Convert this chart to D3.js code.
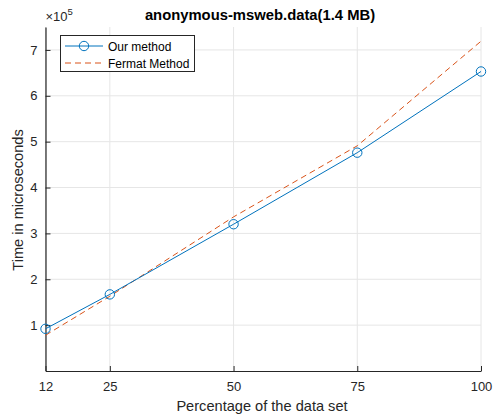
<!DOCTYPE html>
<html>
<head>
<meta charset="utf-8">
<script src="https://d3js.org/d3.v7.min.js"></script>
<style>
  body { margin: 0; background: #fff; }
  svg { display: block; font-family: "Liberation Sans", Arial, sans-serif; }
</style>
</head>
<body>
<svg id="chart" width="498" height="418"></svg>
<script>
// Percentage of the data set used in each run
const percentages = [12, 25, 50, 75, 100];
// Running time in microseconds
const ourMethod = [0.92e5, 1.67e5, 3.20e5, 4.76e5, 6.53e5];
const fermatMethod = [0.78e5, 1.63e5, 3.36e5, 4.91e5, 7.19e5];
const xTicks = [12, 25, 50, 75, 100];
const yTicks = [1e5, 2e5, 3e5, 4e5, 5e5, 6e5, 7e5];
const seriesNames = ["Our method", "Fermat Method"];

const blue = "#0072BD", orange = "#D95319", axisCol = "#262626", gridCol = "#e6e6e6";

const svg = d3.select("#chart");
const plotLeft = 45.5, plotRight = 481, plotTop = 27, plotBottom = 371;

const x = d3.scaleLinear().domain([12, 100]).range([plotLeft, plotRight]);
const y = d3.scaleLinear().domain([0, 7.5e5]).range([plotBottom, plotTop]);

// grid
const grid = svg.append("g");
grid.selectAll(".gx").data(xTicks).join("line")
  .attr("x1", d => x(d)).attr("x2", d => x(d))
  .attr("y1", plotTop).attr("y2", plotBottom)
  .attr("stroke", gridCol).attr("stroke-width", 1);
grid.selectAll(".gy").data(yTicks).join("line")
  .attr("x1", plotLeft).attr("x2", plotRight)
  .attr("y1", d => y(d)).attr("y2", d => y(d))
  .attr("stroke", gridCol).attr("stroke-width", 1);

// axes
const xAxis = svg.append("g").attr("transform", `translate(0,${plotBottom})`)
  .call(d3.axisBottom(x).tickValues(xTicks).tickSizeInner(-5).tickSizeOuter(0).tickPadding(11));
const yAxis = svg.append("g").attr("transform", `translate(${plotLeft},0)`)
  .call(d3.axisLeft(y).tickValues(yTicks).tickFormat(d => d / 1e5).tickSizeInner(-5).tickSizeOuter(0).tickPadding(8));
[xAxis, yAxis].forEach(a => {
  a.select(".domain").attr("stroke", axisCol).attr("stroke-width", 1.2);
  a.selectAll(".tick line").attr("stroke", axisCol).attr("stroke-width", 1);
  a.selectAll(".tick text").attr("fill", axisCol).style("font-size", "13px").style("font-family", "Liberation Sans, Arial, sans-serif");
});

// exponent label
const exp = svg.append("text").attr("x", plotLeft).attr("y", 21).attr("fill", axisCol)
  .style("font-size", "13px");
exp.append("tspan").text("\u00d710");
exp.append("tspan").attr("dy", -6).style("font-size", "9.5px").text("5");

// series
const line = d3.line().x((d, i) => x(percentages[i])).y(d => y(d));
svg.append("path").datum(fermatMethod).attr("d", line)
  .attr("fill", "none").attr("stroke", orange).attr("stroke-width", 1)
  .attr("stroke-dasharray", "6,4");
svg.append("path").datum(ourMethod).attr("d", line)
  .attr("fill", "none").attr("stroke", blue).attr("stroke-width", 1);
svg.selectAll(".pt").data(ourMethod).join("circle")
  .attr("cx", (d, i) => x(percentages[i])).attr("cy", d => y(d)).attr("r", 4.7)
  .attr("fill", "none").attr("stroke", blue).attr("stroke-width", 1);

// title and labels
svg.append("text").attr("x", 260).attr("y", 20).attr("text-anchor", "middle")
  .attr("fill", "#000").style("font-size", "14.8px").style("font-weight", "bold")
  .text("anonymous-msweb.data(1.4 MB)");
svg.append("text").attr("x", 262).attr("y", 411).attr("text-anchor", "middle")
  .attr("fill", axisCol).style("font-size", "14.6px").text("Percentage of the data set");
svg.append("text").attr("transform", "translate(23,200) rotate(-90)").attr("text-anchor", "middle")
  .attr("fill", axisCol).style("font-size", "14.6px").text("Time in microseconds");

// legend
const lg = svg.append("g");
lg.append("rect").attr("x", 60.5).attr("y", 35.5).attr("width", 134).attr("height", 36)
  .attr("fill", "#fff").attr("stroke", axisCol).attr("stroke-width", 1);
const rows = [46, 63];
lg.append("line").attr("x1", 65).attr("x2", 103).attr("y1", rows[0]).attr("y2", rows[0])
  .attr("stroke", blue).attr("stroke-width", 1);
lg.append("circle").attr("cx", 84).attr("cy", rows[0]).attr("r", 4.7)
  .attr("fill", "none").attr("stroke", blue).attr("stroke-width", 1);
lg.append("line").attr("x1", 65).attr("x2", 103).attr("y1", rows[1]).attr("y2", rows[1])
  .attr("stroke", orange).attr("stroke-width", 1).attr("stroke-dasharray", "6,4");
lg.selectAll(".lt").data(seriesNames).join("text")
  .attr("x", 108).attr("y", (d, i) => rows[i] + 4.5)
  .attr("fill", "#000").style("font-size", "12px").text(d => d);
</script>
</body>
</html>
